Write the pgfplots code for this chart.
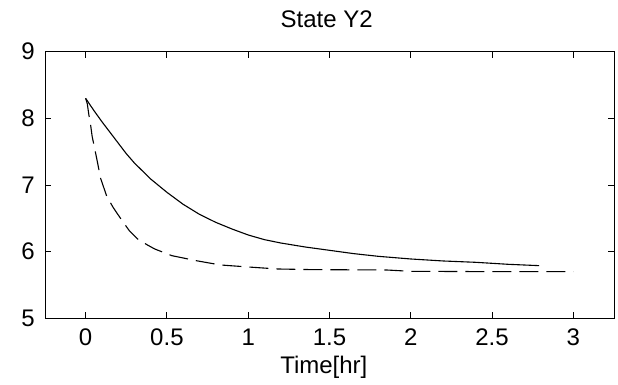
\documentclass[border=0pt]{standalone}
\usepackage{fontspec}
\setmainfont{Liberation Sans}
\usepackage{pgfplots}
\pgfplotsset{compat=1.18}
\begin{document}
\begin{tikzpicture}
\begin{axis}[
  at={(0,0)}, anchor=south west,
  scale only axis, width=569bp, height=266.6bp,
  xmin=-0.25, xmax=3.25, ymin=5, ymax=9,
  xtick={0,0.5,1,1.5,2,2.5,3},
  ytick={5,6,7,8,9},
  tick pos=both, tick align=inside,
  major tick length=6bp,
  axis line style={line width=1bp, black},
  every tick/.style={black, line width=1bp},
  /pgf/number format/assume math mode=true,
  ticklabel style={font=\fontsize{24bp}{28bp}\selectfont, inner sep=0pt},
  xticklabel style={anchor=north, yshift=-10bp},
  yticklabel style={anchor=east, xshift=-10bp},
  title={State Y2},
  title style={at={(axis description cs:0.495,1)}, anchor=base, inner sep=0pt, yshift=18.7bp, font=\fontsize{24bp}{28bp}\selectfont},
  xlabel={Time[hr]},
  xlabel style={at={(axis description cs:0.49,0)}, anchor=base, inner sep=0pt, yshift=-55bp, font=\fontsize{24bp}{28bp}\selectfont},
  clip=false,
]
\addplot[black, line width=1.1bp] coordinates {
(0,8.30) (0.05,8.12) (0.1,7.95) (0.15,7.79) (0.2,7.63) (0.25,7.47)
(0.3,7.33) (0.4,7.09) (0.5,6.89) (0.6,6.71) (0.7,6.56) (0.8,6.44)
(0.9,6.34) (1.0,6.25) (1.1,6.18) (1.2,6.13) (1.35,6.07) (1.5,6.02)
(1.65,5.97) (1.8,5.93) (2.0,5.89) (2.2,5.86) (2.4,5.84) (2.6,5.81) (2.79,5.79)
};
\addplot[black, line width=1.1bp, dash pattern=on 19bp off 8bp] coordinates {
(0,8.30) (0.01,8.22) (0.02,8.05) (0.03,7.91) (0.04,7.73) (0.057,7.53)
(0.072,7.35) (0.092,7.10) (0.13,6.83) (0.17,6.66) (0.22,6.48) (0.27,6.31)
(0.32,6.19) (0.38,6.10) (0.425,6.04) (0.53,5.94) (0.69,5.86) (0.83,5.80)
(1.0,5.77) (1.18,5.74) (1.4,5.73) (1.85,5.725) (2.0,5.705) (2.5,5.70) (3.0,5.70)
};
\end{axis}
\path (-45bp,-66.7bp) rectangle (573bp,318.3bp);
\end{tikzpicture}
\end{document}
